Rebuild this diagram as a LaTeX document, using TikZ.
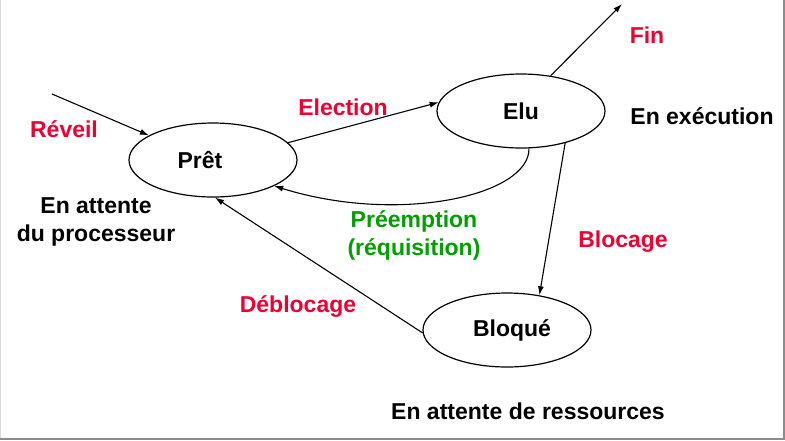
\documentclass[tikz,border=0pt]{standalone}
\usepackage{fontspec}
\setmainfont{Liberation Sans}
\usetikzlibrary{shapes.geometric,arrows.meta}
\definecolor{lblred}{RGB}{240,0,50}
\definecolor{lblgreen}{RGB}{0,160,0}
\begin{document}
\begin{tikzpicture}[x=1pt,y=-1pt,
  state/.style={ellipse,draw,line width=1.2pt,minimum width=168pt,minimum height=74pt,inner sep=0pt,
    font=\fontsize{23}{28}\selectfont\bfseries},
  lbl/.style={font=\fontsize{23}{28}\selectfont\bfseries,inner sep=0pt,align=center},
  red lbl/.style={lbl,text=lblred},
  green lbl/.style={lbl,text=lblgreen},
  arr/.style={line width=1.1pt,-{Latex[length=9pt,width=6pt]}}]
\useasboundingbox (0,0) rectangle (785,440);
\fill[white] (0,0) rectangle (785,440);
\draw[black!15,line width=1pt] (0.5,0) -- (0.5,438);
\draw[black!45,line width=2pt] (783.5,0) -- (783.5,438.5) -- (0,438.5);

\node[state] (pret) at (213,160) {\makebox[0pt]{\kern-26pt Prêt}};
\node[state] (elu) at (521,111) {Elu};
\node[state] (bloque) at (507,330) {\makebox[0pt]{\kern10pt Bloqué}};

\coordinate (wake) at (52,94);
\coordinate (finend) at (622,4);

\node[red lbl] (reveil) at (64,129) {Réveil};
\node[red lbl] (election) at (343,107) {Election};
\node[red lbl] (fin) at (647,35) {Fin};
\node[red lbl] (blocage) at (623,242) {Blocage};
\node[red lbl] (deblocage) at (298,306) {Déblocage};
\node[green lbl] (preempt) at (414,235) {Préemption\\(réquisition)};
\node[lbl] (attproc) at (96,222) {En attente\\du processeur};
\node[lbl] (exec) at (702,116) {En exécution};
\node[lbl] (attres) at (528,411) {En attente de ressources};

\draw[arr] (wake) -- (pret.159);
\draw[arr] (pret.13) -- (elu.174);
\draw[arr] (elu.50) -- (finend);
\draw[arr] (elu.-36) -- (bloque.47);
\draw[arr] (bloque.182) -- (pret.273);
\draw[arr] (elu.282) .. controls (530,195) and (400,225) .. (pret.337);
\end{tikzpicture}
\end{document}
